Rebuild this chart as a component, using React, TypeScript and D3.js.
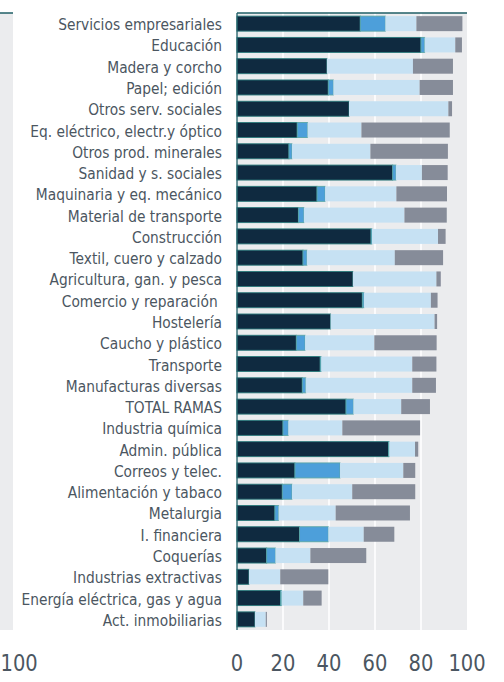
import React from "react";
import * as d3 from "d3";

const categories = [
  "Servicios empresariales",
  "Educación",
  "Madera y corcho",
  "Papel; edición",
  "Otros serv. sociales",
  "Eq. eléctrico, electr.y óptico",
  "Otros prod. minerales",
  "Sanidad y s. sociales",
  "Maquinaria y eq. mecánico",
  "Material de transporte",
  "Construcción",
  "Textil, cuero y calzado",
  "Agricultura, gan. y pesca",
  "Comercio y reparación ",
  "Hostelería",
  "Caucho y plástico",
  "Transporte",
  "Manufacturas diversas",
  "TOTAL RAMAS",
  "Industria química",
  "Admin. pública",
  "Correos y telec.",
  "Alimentación y tabaco",
  "Metalurgia",
  "I. financiera",
  "Coquerías",
  "Industrias extractivas",
  "Energía eléctrica, gas y agua",
  "Act. inmobiliarias",
];

const serie1 = [53.6, 80.0, 39.1, 39.7, 48.7, 26.2, 22.6, 67.7, 34.8, 26.7, 58.3, 28.7, 50.4, 54.5, 40.7, 25.8, 36.2, 28.4, 47.4, 20.0, 65.9, 25.2, 19.7, 16.5, 27.2, 12.9, 5.2, 19.0, 7.8];
const serie2 = [10.9, 1.6, 0, 2.2, 0, 4.5, 1.3, 1.4, 3.5, 2.4, 0.4, 1.7, 0, 0.7, 0, 3.8, 0.4, 1.5, 3.2, 2.3, 0.3, 19.6, 4.2, 1.6, 12.5, 3.8, 0, 0.4, 0];
const serie3 = [13.5, 13.3, 37.4, 37.5, 43.2, 23.4, 34.1, 11.3, 31.0, 43.7, 28.7, 38.2, 36.3, 29.1, 45.2, 30.1, 39.6, 46.3, 20.8, 23.5, 11.2, 27.5, 26.2, 24.8, 15.4, 15.2, 13.6, 9.4, 4.7];
const serie4 = [20.0, 2.9, 17.4, 14.5, 1.6, 38.4, 33.7, 11.2, 22.0, 18.4, 3.3, 21.0, 1.9, 2.9, 1.1, 27.1, 10.5, 10.3, 12.5, 33.8, 1.4, 5.2, 27.4, 32.3, 13.3, 24.3, 20.9, 8.0, 0.5];

const xTicks = [0, 20, 40, 60, 80, 100];
const leftPanelTick = "100";

const colors = ["#0f2a40", "#4d9fda", "#c6e1f3", "#868c99"];
const strokes = ["#2b7a7c", "#5aa6a8", "none", "none"];

export default function App() {
  const W = 504;
  const H = 682;
  const x0 = 237;
  const x1 = 467;
  const yTop = 13;
  const yBot = 630;
  const sy = 1.17;

  const x = d3.scaleLinear().domain([0, 100]).range([x0, x1]);
  const y = d3
    .scaleBand<string>()
    .domain(categories)
    .range([yTop, yBot])
    .paddingInner(0.295)
    .paddingOuter(0.1475);

  const rows = categories.map((c, i) => ({
    cat: c,
    s0: serie1[i],
    s1: serie2[i],
    s2: serie3[i],
    s3: serie4[i],
  }));
  const stack = d3.stack<any>().keys(["s0", "s1", "s2", "s3"]);
  const series = stack(rows);

  const font = "'DejaVu Sans', Verdana, sans-serif";

  return (
    <div style={{ position: "absolute", left: 0, top: 0 }}>
      <svg width={W} height={H} style={{ display: "block" }}>
        <rect x={0} y={0} width={W} height={H} fill="#ffffff" />
        {/* left partial panel */}
        <rect x={0} y={yTop} width={13} height={yBot - yTop} fill="#ebecee" />
        <line x1={0} x2={13} y1={yTop} y2={yTop} stroke="#1f5f66" strokeWidth={1.5} />
        <text
          transform={`translate(0.5,${670.5}) scale(1,${sy})`}
          textAnchor="start"
          fontFamily={font}
          fontSize={19.5}
          fill="#4b5661"
        >
          {leftPanelTick}
        </text>

        {/* plot background */}
        <rect x={x0} y={yTop} width={x1 - x0} height={yBot - yTop} fill="#ebecee" />
        {xTicks
          .filter((t) => t > 0 && t < 100)
          .map((t) => (
            <line key={t} x1={x(t)} x2={x(t)} y1={yTop} y2={yBot} stroke="#ffffff" strokeWidth={1.6} />
          ))}

        {series.map((s, si) => (
          <g key={si} fill={colors[si]}>
            {s.map((d, i) => {
              const w = x(d[1]) - x(d[0]);
              if (w <= 0) return null;
              return (
                <rect
                  key={i}
                  x={x(d[0])}
                  y={y(categories[i])!}
                  width={w}
                  height={y.bandwidth()}
                  stroke={strokes[si]}
                  strokeWidth={strokes[si] === "none" ? 0 : 0.9}
                />
              );
            })}
          </g>
        ))}

        <line x1={x0} x2={x1} y1={yTop} y2={yTop} stroke="#1f5f66" strokeWidth={1.5} />
        <line x1={x0} x2={x0} y1={yTop} y2={yBot} stroke="#1f5f66" strokeWidth={1.3} />

        {categories.map((c) => (
          <text
            key={c}
            transform={`translate(222,${y(c)! + y.bandwidth() / 2 + 6.5}) scale(1,${sy})`}
            textAnchor="end"
            fontFamily={font}
            fontSize={13.8}
            fill="#4b5661"
            style={{ whiteSpace: "pre" }}
          >
            {c}
          </text>
        ))}

        {xTicks.map((t) => (
          <text
            key={t}
            transform={`translate(${x(t)},670.5) scale(1,${sy})`}
            textAnchor="middle"
            fontFamily={font}
            fontSize={19.5}
            fill="#4b5661"
          >
            {t}
          </text>
        ))}
      </svg>
    </div>
  );
}
